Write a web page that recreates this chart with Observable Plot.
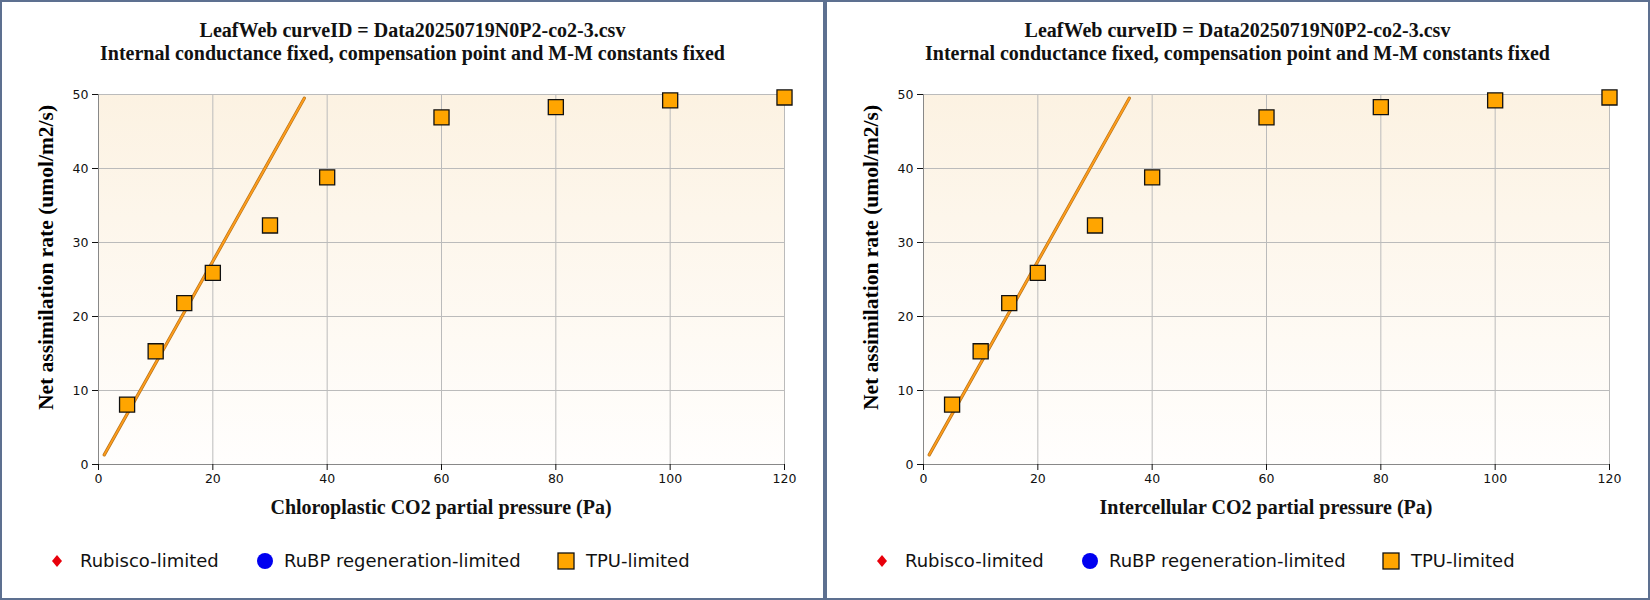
<!DOCTYPE html>
<html><head><meta charset="utf-8">
<script src="https://cdn.jsdelivr.net/npm/d3@7"></script>
<script src="https://cdn.jsdelivr.net/npm/@observablehq/plot@0.6"></script>
<style>
body{margin:0;width:1650px;height:600px;background:#fff;position:relative;overflow:hidden}
.panel{position:absolute;top:0;height:596px;border:2px solid #5d7090;box-sizing:content-box;background:#fff}
.t{position:absolute;left:0;width:100%;text-align:center;font:bold 20px "Liberation Serif",serif;color:#111;white-space:nowrap}
.bg{position:absolute;background:linear-gradient(#fcf2e2,#fffefd)}
.yl{position:absolute;font:bold 21.5px "Liberation Serif",serif;transform:rotate(-90deg);white-space:nowrap;transform-origin:center}
.lg{position:absolute;top:548px;font:18px "DejaVu Sans",sans-serif;color:#111;white-space:nowrap}
.plot{position:absolute;left:0;top:0}
</style></head><body>
<script>
const ci = [5,10,15,20,30,40,60,80,100,120];
const anet = [8.1,15.3,21.8,25.9,32.3,38.8,46.9,48.3,49.2,49.6];
const tpuX = [1,36];
const tpuY = [1.3,49.5];
const xTicks = [0,20,40,60,80,100,120];
const yTicks = [0,10,20,30,40,50];
const title1 = "LeafWeb curveID = Data20250719N0P2-co2-3.csv";
const title2 = "Internal conductance fixed, compensation point and M-M constants fixed";
const xLabels = ["Chloroplastic CO2 partial pressure (Pa)","Intercellular CO2 partial pressure (Pa)"];
const yLabel = "Net assimilation rate (umol/m2/s)";
const legendNames = ["Rubisco-limited","RuBP regeneration-limited","TPU-limited"];

const pts = ci.map((x,i)=>({x,y:anet[i]}));
const line = tpuX.map((x,i)=>({x,y:tpuY[i]}));
const W=820,H=596, ML=96, MR=38, MT=92, MB=134;

[0,825].forEach((left,k)=>{
  const p=document.createElement("div");p.className="panel";
  p.style.left=left+"px";p.style.width="821px";
  document.body.appendChild(p);
  const bg=document.createElement("div");bg.className="bg";
  Object.assign(bg.style,{left:ML+"px",top:MT+"px",width:(W-ML-MR)+"px",height:(H-MT-MB)+"px"});
  p.appendChild(bg);
  const chart=Plot.plot({
    width:W,height:H,marginLeft:ML,marginRight:MR,marginTop:MT,marginBottom:MB,
    style:{background:"transparent",fontFamily:"DejaVu Sans",fontSize:"12.5px",color:"#111"},
    x:{domain:[0,120],ticks:xTicks,label:null},
    y:{domain:[0,50],ticks:yTicks,label:null},
    marks:[
      Plot.gridX(xTicks,{stroke:"#bbb",strokeOpacity:1}),
      Plot.gridY(yTicks,{stroke:"#bbb",strokeOpacity:1}),
      Plot.ruleX([0],{stroke:"#888"}),
      Plot.ruleY([0],{stroke:"#888"}),
      Plot.axisX({ticks:xTicks,tickSize:6,tickPadding:4,fontSize:12.5}),
      Plot.axisY({ticks:yTicks,tickSize:6,tickPadding:4,fontSize:12.5}),
      Plot.line(line,{x:"x",y:"y",stroke:"#b8741a",strokeWidth:3.2}),
      Plot.line(line,{x:"x",y:"y",stroke:"#ff9d1c",strokeWidth:1.8}),
      Plot.dot(pts,{x:"x",y:"y",symbol:"square",r:8.5,fill:"#ffa500",stroke:"#111",strokeWidth:1.3})
    ]
  });
  chart.classList.add("plot");p.appendChild(chart);
  const a=document.createElement("div");a.className="t";a.style.top="17px";a.textContent=title1;p.appendChild(a);
  const b=document.createElement("div");b.className="t";b.style.top="40px";b.textContent=title2;p.appendChild(b);
  const xl=document.createElement("div");xl.className="t";xl.style.top="494px";
  xl.style.left=ML+"px";xl.style.width=(W-ML-MR)+"px";xl.textContent=xLabels[k];p.appendChild(xl);
  const yl=document.createElement("div");yl.className="yl";yl.textContent=yLabel;p.appendChild(yl);
  const w=yl.offsetWidth,h=yl.offsetHeight;
  yl.style.left=(44-w/2)+"px";yl.style.top=(255-h/2)+"px";
  const syms=[
    '<svg width="14" height="14" style="vertical-align:-1px"><path d="M7 1L12 7L7 13L2 7Z" fill="#e8000b"/></svg>',
    '<svg width="18" height="18" style="vertical-align:-3px"><circle cx="9" cy="9" r="8" fill="#0000f0"/></svg>',
    '<svg width="18" height="18" style="vertical-align:-3px"><rect x="1" y="1" width="16" height="16" fill="#ffa500" stroke="#111" stroke-width="1.3"/></svg>'
  ];
  const sx=[48,254,555], tx=[78,282,584];
  legendNames.forEach((n,i)=>{
    const s=document.createElement("div");s.className="lg";s.style.left=sx[i]+"px";s.innerHTML=syms[i];p.appendChild(s);
    const t=document.createElement("div");t.className="lg";t.style.left=tx[i]+"px";t.textContent=n;p.appendChild(t);
  });
});
</script>
</body></html>
